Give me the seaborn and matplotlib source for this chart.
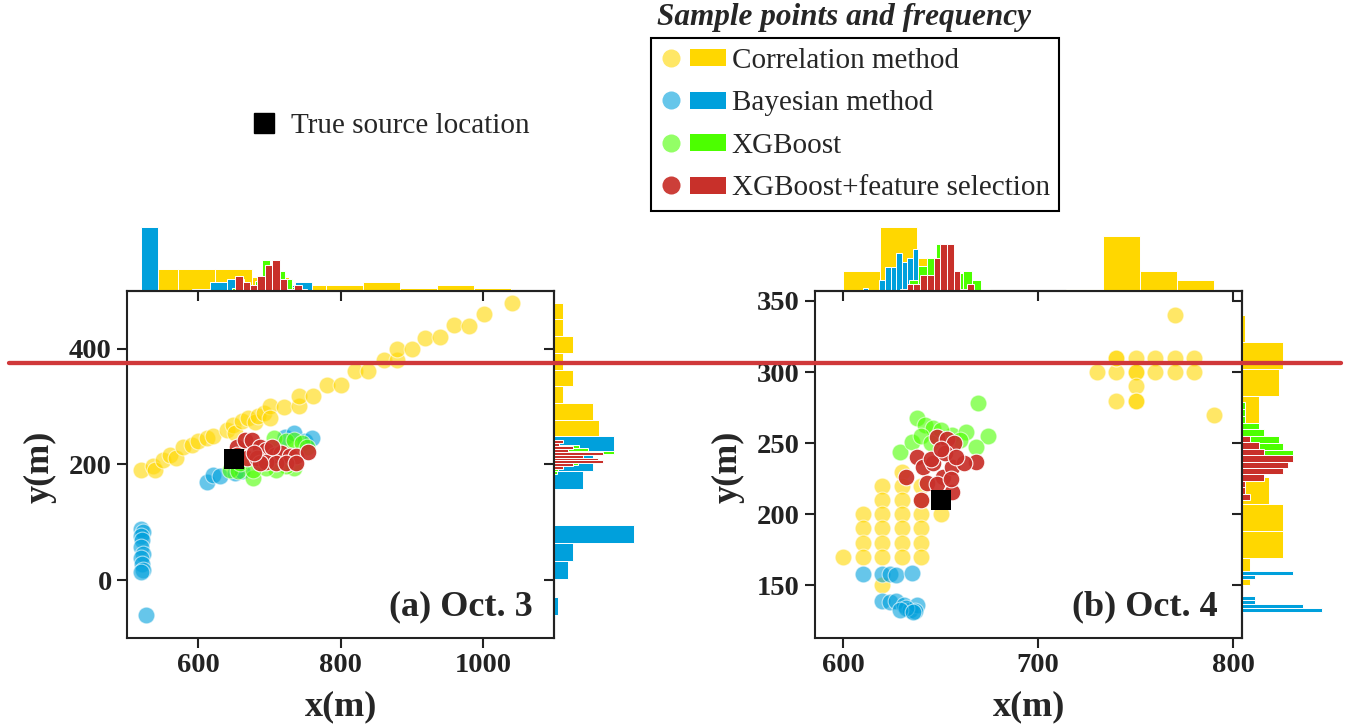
import numpy as np
import pandas as pd
import matplotlib
matplotlib.use("Agg")
import matplotlib.pyplot as plt
import seaborn as sns
from matplotlib.legend_handler import HandlerBase
from matplotlib.lines import Line2D
from matplotlib.patches import Rectangle

# ---------------------------------------------------------------- data
METHODS = ["Correlation method", "Bayesian method", "XGBoost", "XGBoost+feature selection"]
SRC_LABEL = "True source location"
LEGEND_TITLE = "Sample points and frequency"
PANEL_LABELS = ["(a) Oct. 3", "(b) Oct. 4"]

# true source location (both days)
SRC_X = [650]
SRC_Y = [210]

# ---- Oct. 3 sample points
O3_CORR_X = [520, 537, 540, 551, 560, 569, 579, 591, 600, 612, 621, 640, 649, 652, 661, 670, 680, 684, 692, 701,
             701, 720, 741, 741, 762, 781, 800, 821, 839, 861, 879, 879, 900, 919, 940, 959, 980, 1001, 1041]
O3_CORR_Y = [191, 197, 191, 208, 217, 211, 231, 234, 240, 246, 249, 260, 269, 254, 275, 280, 273, 283, 289, 301,
             280, 300, 301, 319, 319, 338, 338, 361, 361, 380, 380, 399, 399, 419, 420, 442, 440, 460, 480]
O3_BAYES_X = [520, 522, 519, 521, 520, 522, 520, 521, 522, 520, 527, 612, 621, 631, 652, 661, 722, 734, 750, 760]
O3_BAYES_Y = [88, 84, 76, 70, 58, 45, 38, 28, 18, 14, -61, 170, 182, 180, 186, 188, 248, 254, 241, 246]
O3_XGB_X = [645, 656, 677, 706, 724, 734, 746, 753, 734, 724, 710, 696, 659, 677]
O3_XGB_Y = [191, 188, 176, 246, 240, 243, 237, 231, 194, 197, 191, 194, 202, 191]
O3_XGBFS_X = [654, 666, 675, 687, 696, 708, 717, 729, 738, 755, 654, 668, 682, 696, 710, 724, 738, 687, 678, 704]
O3_XGBFS_Y = [231, 243, 243, 231, 225, 217, 220, 214, 214, 221, 217, 211, 211, 205, 202, 202, 202, 202, 220, 231]

# ---- Oct. 4 sample points
O4_CORR_X = [600, 610, 610, 610, 610, 620, 620, 620, 620, 620, 620, 620, 630, 630, 630, 630, 630, 630, 630,
             640, 640, 640, 640, 640, 640, 650,
             730, 740, 740, 740, 750, 750, 750, 750, 760, 760, 770, 770, 780, 780, 740, 750, 750, 770, 790]
O4_CORR_Y = [170, 200, 190, 180, 170, 220, 210, 200, 190, 180, 170, 150, 230, 220, 210, 200, 190, 180, 170,
             220, 210, 200, 190, 180, 170, 200,
             300, 300, 310, 310, 310, 300, 300, 290, 310, 300, 310, 300, 310, 300, 280, 280, 280, 340, 270]
O4_BAYES_X = [610, 620, 624, 627, 635, 620, 624, 627, 631, 634, 638, 637, 632, 629, 636]
O4_BAYES_Y = [158, 158, 158, 157, 159, 139, 138, 139, 136, 133, 136, 132, 134, 133, 131]
O4_XGB_X = [638, 642, 646, 656, 663, 669, 674, 668, 629, 635, 650, 660, 640, 645]
O4_XGB_Y = [268, 263, 261, 256, 258, 278, 255, 247, 244, 251, 259, 252, 255, 250]
O4_XGBFS_X = [648, 653, 657, 668, 632, 638, 641, 646, 651, 656, 662, 643, 648, 656, 640, 645, 652, 650, 658, 655]
O4_XGBFS_Y = [254, 253, 250, 237, 226, 240, 233, 236, 226, 233, 236, 222, 221, 216, 210, 239, 243, 246, 240, 225]

# ---- marginal frequencies (equal-width bins over the given range)
# Oct. 3, along x
O3_XH_CORR_RANGE, O3_XH_CORR = (520, 1040), [22, 22, 22, 14, 6, 6, 9, 3.3, 6, 2.7]
O3_XH_BAYES_RANGE, O3_XH_BAYES = (520, 760), [64, 0, 0, 1.7, 9, 12, 3, 4, 6, 9]
O3_XH_XGB_RANGE, O3_XH_XGB = (648, 753), [3, 5, 6, 10, 31, 24, 20, 12, 4, 2]
O3_XH_XGBFS_RANGE, O3_XH_XGBFS = (652, 756), [15, 9, 6, 15, 26, 31, 12, 2, 6, 1]
# Oct. 3, along y
O3_YH_CORR_RANGE, O3_YH_CORR = (190, 480), [12, 15, 44.7, 39.3, 8.7, 19.3, 8.7, 19.3, 8.7, 8.7]
O3_YH_BAYES_RANGE, O3_YH_BAYES = (-60, 250), [3.7, 0, 14.3, 19.3, 80, 0, 0, 29.3, 39.3, 60]
O3_YH_XGB_RANGE, O3_YH_XGB = (184, 234), [3, 4, 8, 24, 30, 28, 28, 60, 34, 25]
O3_YH_XGBFS_RANGE, O3_YH_XGBFS = (192.5, 241.5), [9, 19, 49, 44, 29, 49, 14, 19, 5, 9]
# Oct. 4, along x
O4_XH_CORR_RANGE, O4_XH_CORR = (600, 790), [20, 64, 33, 0, 0, 0, 2.3, 55, 20, 11]
O4_XH_BAYES_RANGE, O4_XH_BAYES = (610, 638.5), [2.7, 0, 0, 11, 24, 24, 38, 29, 33, 42]
O4_XH_XGB_RANGE, O4_XH_XGB = (629, 675), [2.3, 11, 25, 33, 47, 40, 18, 20, 11, 2.3]
O4_XH_XGBFS_RANGE, O4_XH_XGBFS = (632.5, 667), [6.7, 7.3, 16, 16, 33, 47, 47, 20, 2.3, 7.3]
# Oct. 4, along y
O4_YH_CORR_RANGE, O4_YH_CORR = (150, 340), [8, 41, 41, 27, 8, 0, 17, 37, 41, 3]
O4_YH_BAYES_RANGE, O4_YH_BAYES = (131, 160), [80, 61, 13, 13, 0, 0, 0, 0, 13, 51]
O4_YH_XGB_RANGE, O4_YH_XGB = (240.5, 278.9), [51, 41, 37, 22, 17, 3, 3, 3]
O4_YH_XGBFS_RANGE, O4_YH_XGBFS = (210, 255), [8, 3, 3, 22, 41, 46, 51, 22, 17, 8]

# axis settings
O3_XLIM, O3_YLIM = (500, 1100), (-100, 500)
O3_XTICKS, O3_YTICKS = [600, 800, 1000], [0, 200, 400]
O4_XLIM, O4_YLIM = (585.5, 804.5), (113, 357)
O4_XTICKS, O4_YTICKS = [600, 700, 800], [150, 200, 250, 300, 350]

# ---------------------------------------------------------------- style
BAR_COLORS = ["#FFD700", "#00A0DC", "#4CFF00", "#C8302A"]
PT_ALPHA = [0.6, 0.6, 0.6, 0.93]
SPINE_C = "#222222"
PT_SIZE = 145

sns.set_style("ticks")
plt.rcParams["font.family"] = ["Liberation Serif", "DejaVu Serif"]
plt.rcParams["axes.edgecolor"] = SPINE_C
plt.rcParams["xtick.color"] = SPINE_C
plt.rcParams["ytick.color"] = SPINE_C

W, H = 1346, 726
fig = plt.figure(figsize=(W / 100, H / 100), dpi=100)


def frac(l, t, r, b):
    return [l / W, 1 - b / H, (r - l) / W, (b - t) / H]


def hist_frame(rng, freq):
    edges = np.linspace(rng[0], rng[1], len(freq) + 1)
    cen = (edges[:-1] + edges[1:]) / 2
    return pd.DataFrame({"pos": cen, "freq": np.asarray(freq, dtype=float)}), [float(e) for e in edges]


def draw_panel(px, sc, top, right, pts, xh, yh, xlim, ylim, xticks, yticks, label):
    ax = fig.add_axes(frac(*sc))
    axt = fig.add_axes(frac(*top), sharex=ax)
    axr = fig.add_axes(frac(*right), sharey=ax)

    for (xs, ys), c, a in zip(pts, BAR_COLORS, PT_ALPHA):
        sns.scatterplot(x=xs, y=ys, ax=ax, color=c, alpha=a, s=PT_SIZE,
                        edgecolor="white", linewidth=0.8, legend=False, zorder=3)
    sns.scatterplot(x=SRC_X, y=SRC_Y, ax=ax, marker="s", s=207, color="black",
                    linewidth=0, legend=False, zorder=4)

    for (rng, f), c in zip(xh, BAR_COLORS):
        df, edges = hist_frame(rng, f)
        sns.histplot(data=df, x="pos", weights="freq", bins=edges, ax=axt, color=c,
                     alpha=1, edgecolor="white", linewidth=0.7)
    for (rng, f), c in zip(yh, BAR_COLORS):
        df, edges = hist_frame(rng, f)
        sns.histplot(data=df, y="pos", weights="freq", bins=edges, ax=axr, color=c,
                     alpha=1, edgecolor="white", linewidth=0.7)

    ax.set_xlim(*xlim)
    ax.set_ylim(*ylim)
    axt.set_ylim(0, 66)
    axr.set_xlim(0, 90)

    ax.set_xticks(xticks)
    ax.set_xticklabels([str(t) for t in xticks], fontweight="bold")
    ax.set_yticks(yticks)
    ax.set_yticklabels([str(t) for t in yticks], fontweight="bold")
    ax.tick_params(direction="out", length=7, width=1.5, labelsize=20.5, pad=4,
                   top=False, right=False)
    for s in ax.spines.values():
        s.set_linewidth(1.5)
        s.set_visible(True)

    ax.set_xlabel("x(m)", fontsize=26, fontweight="bold")
    ax.set_ylabel("y(m)", fontsize=26, fontweight="bold")
    ax.xaxis.set_label_coords(0.501, -0.199)
    ax.xaxis.label.set_va("center")
    ax.yaxis.set_label_coords(-0.204, 0.493)
    ax.yaxis.label.set_va("center")

    ax.text(px, 0.09, label, transform=ax.transAxes, ha="right", va="center",
            fontsize=26, fontweight="bold", zorder=6)

    for a_ in (axt, axr):
        a_.set_xlabel("")
        a_.set_ylabel("")
        a_.patch.set_visible(False)
        for s in a_.spines.values():
            s.set_visible(False)
            s.set_linewidth(1.5)
    axt.spines["bottom"].set_visible(True)
    axr.spines["left"].set_visible(True)
    axt.tick_params(axis="x", direction="out", length=7, width=1.5,
                    labelbottom=False, bottom=True, top=False)
    axt.tick_params(axis="y", left=False, labelleft=False)
    axr.tick_params(axis="y", direction="out", length=7, width=1.5,
                    labelleft=False, left=True, right=False)
    axr.tick_params(axis="x", bottom=False, labelbottom=False)
    return ax


draw_panel(0.951, (127, 291, 554, 638), (127, 225, 554, 291), (554, 291, 644, 638),
           [(O3_CORR_X, O3_CORR_Y), (O3_BAYES_X, O3_BAYES_Y), (O3_XGB_X, O3_XGB_Y), (O3_XGBFS_X, O3_XGBFS_Y)],
           [(O3_XH_CORR_RANGE, O3_XH_CORR), (O3_XH_BAYES_RANGE, O3_XH_BAYES),
            (O3_XH_XGB_RANGE, O3_XH_XGB), (O3_XH_XGBFS_RANGE, O3_XH_XGBFS)],
           [(O3_YH_CORR_RANGE, O3_YH_CORR), (O3_YH_BAYES_RANGE, O3_YH_BAYES),
            (O3_YH_XGB_RANGE, O3_YH_XGB), (O3_YH_XGBFS_RANGE, O3_YH_XGBFS)],
           O3_XLIM, O3_YLIM, O3_XTICKS, O3_YTICKS, PANEL_LABELS[0])

draw_panel(0.944, (815, 291, 1242, 638), (815, 225, 1242, 291), (1242, 291, 1332, 638),
           [(O4_CORR_X, O4_CORR_Y), (O4_BAYES_X, O4_BAYES_Y), (O4_XGB_X, O4_XGB_Y), (O4_XGBFS_X, O4_XGBFS_Y)],
           [(O4_XH_CORR_RANGE, O4_XH_CORR), (O4_XH_BAYES_RANGE, O4_XH_BAYES),
            (O4_XH_XGB_RANGE, O4_XH_XGB), (O4_XH_XGBFS_RANGE, O4_XH_XGBFS)],
           [(O4_YH_CORR_RANGE, O4_YH_CORR), (O4_YH_BAYES_RANGE, O4_YH_BAYES),
            (O4_YH_XGB_RANGE, O4_YH_XGB), (O4_YH_XGBFS_RANGE, O4_YH_XGBFS)],
           O4_XLIM, O4_YLIM, O4_XTICKS, O4_YTICKS, PANEL_LABELS[1])


# ---------------------------------------------------------------- legends
class PointBar:
    def __init__(self, pc, alpha, bc):
        self.pc, self.alpha, self.bc = pc, alpha, bc


class PointBarHandler(HandlerBase):
    def create_artists(self, legend, orig, xdescent, ydescent, width, height, fontsize, trans):
        yc = -ydescent + height / 2
        x0 = -xdescent
        dot = Line2D([x0 + 7.2], [yc], marker="o", markersize=13, linestyle="none",
                     markerfacecolor=orig.pc, markeredgecolor="none", alpha=orig.alpha,
                     transform=trans)
        bar = Rectangle((x0 + 20.9, yc - 6.0), 25.9, 12.0, facecolor=orig.bc,
                        edgecolor="none", transform=trans)
        return [dot, bar]


handles = [PointBar(c, a, c) for c, a in zip(BAR_COLORS, PT_ALPHA)]
leg = fig.legend(handles, METHODS, handler_map={PointBar: PointBarHandler()},
                 loc="upper left", bbox_to_anchor=(651 / W, 1 - 38 / H), borderaxespad=0,
                 fontsize=21, handlelength=2.23, handleheight=0.7, handletextpad=0.2,
                 borderpad=0.33, labelspacing=0.55, frameon=True, fancybox=False,
                 edgecolor="black", framealpha=1)
leg.get_frame().set_linewidth(1.5)

fig.text(844 / W, 1 - 18 / H, LEGEND_TITLE, ha="center", va="center", fontsize=22.5,
         fontweight="bold", fontstyle="italic")

src_handle = Line2D([], [], marker="s", markersize=15, linestyle="none", color="black")
fig.legend([src_handle], [SRC_LABEL], loc="center left", bbox_to_anchor=(236 / W, 1 - 126 / H),
           borderaxespad=0, fontsize=21, frameon=False, handlelength=1.1, handletextpad=0.4)

# horizontal red guide line across the figure
fig.add_artist(Line2D([9 / W, 1341 / W], [1 - 363 / H, 1 - 363 / H], transform=fig.transFigure,
                      color="#D0383A", linewidth=3.1, zorder=20))

fig.savefig("out.png", dpi=100)
